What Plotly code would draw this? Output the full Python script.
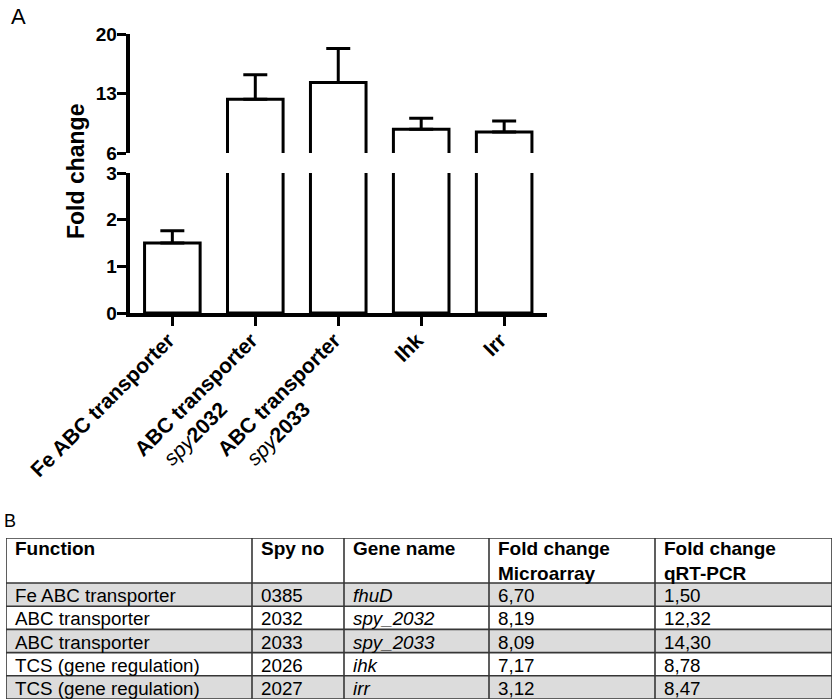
import plotly.graph_objects as go

# ---------------- data ----------------
categories = ["Fe ABC transporter", "ABC transporter spy2032", "ABC transporter spy2033", "Ihk", "Irr"]
PAD = "\u00a0" * 12
tick_labels = [
    "<b>Fe ABC transporter</b>",
    "<b>ABC transporter</b><br><i>spy</i><b>2032</b>" + PAD,
    "<b>ABC transporter</b><br><i>spy</i><b>2033</b>" + PAD,
    "<b>Ihk</b>",
    "<b>Irr</b>",
]
fold_change = [1.50, 12.32, 14.30, 8.78, 8.47]
fold_error = [0.26, 2.9, 4.0, 1.3, 1.3]
lower_ticks = [0, 1, 2, 3]
upper_ticks = [6, 13, 20]

table_header = ["<b>Function</b>", "<b>Spy no</b>", "<b>Gene name</b>",
                "<b>Fold change<br>Microarray</b>", "<b>Fold change<br>qRT-PCR</b>"]
functions = ["Fe ABC transporter", "ABC transporter", "ABC transporter",
             "TCS (gene regulation)", "TCS (gene regulation)"]
spy_no = ["0385", "2032", "2033", "2026", "2027"]
gene_name = ["<i>fhuD</i>", "<i>spy_2032</i>", "<i>spy_2033</i>", "<i>ihk</i>", "<i>irr</i>"]
fc_microarray = ["6,70", "8,19", "8,09", "7,17", "3,12"]
fc_qrtpcr = ["1,50", "12,32", "14,30", "8,78", "8,47"]
table_columns = [functions, spy_no, gene_name, fc_microarray, fc_qrtpcr]

# table geometry (layout, in table units = px)
col_widths = [246, 92, 145, 166, 177]
header_height = 45
row_height = 23.2
row_fill = ["#dcdcdc", "white", "#dcdcdc", "white", "#dcdcdc"]

# ---------------- figure ----------------
W, H = 836, 700
FONT = "Arial, Liberation Sans, Helvetica, sans-serif"


def px_x(p):
    return p / W


def px_y(p):
    return 1 - p / H


fig = go.Figure()

for xa, ya in [("x", "y"), ("x2", "y2")]:
    fig.add_trace(go.Bar(
        x=categories, y=fold_change, xaxis=xa, yaxis=ya,
        width=0.67,
        marker=dict(color="white", line=dict(color="black", width=3)),
        error_y=dict(type="data", array=fold_error, arrayminus=[0] * 5,
                     symmetric=False, color="black", thickness=3, width=12),
        showlegend=False, hoverinfo="skip",
    ))

# ---- table drawn on its own axes ----
col_edges = [0]
for w in col_widths:
    col_edges.append(col_edges[-1] + w)
row_edges = [0, header_height]
for _ in functions:
    row_edges.append(row_edges[-1] + row_height)
row_centers = [(row_edges[i + 1] + row_edges[i + 2]) / 2 for i in range(len(functions))]
table_w = col_edges[-1]
table_h = row_edges[-1]

# row backgrounds as horizontal bars
fig.add_trace(go.Bar(
    orientation="h", y=row_centers, x=[table_w] * len(row_centers), base=0,
    width=row_height, marker=dict(color=row_fill, line=dict(width=0)),
    xaxis="x3", yaxis="y3", showlegend=False, hoverinfo="skip",
))

# grid lines
gx, gy = [], []
for e in col_edges:
    gx += [e, e, None]
    gy += [0, table_h, None]
for e in row_edges:
    gx += [0, table_w, None]
    gy += [e, e, None]
fig.add_trace(go.Scatter(x=gx, y=gy, mode="lines", xaxis="x3", yaxis="y3",
                         line=dict(color="#363636", width=1.6),
                         showlegend=False, hoverinfo="skip"))

# header text
fig.add_trace(go.Scatter(
    x=[e + 9 for e in col_edges[:-1]], y=[3] * len(table_header),
    text=table_header, mode="text", textposition="bottom right",
    textfont=dict(size=19, family=FONT, color="black"), cliponaxis=False,
    xaxis="x3", yaxis="y3", showlegend=False, hoverinfo="skip"))

# body text
for ci, col in enumerate(table_columns):
    fig.add_trace(go.Scatter(
        x=[col_edges[ci] + 9] * len(col), y=[c + 3 for c in row_centers],
        text=col, mode="text", textposition="middle right",
        textfont=dict(size=18.8, family=FONT, color="black"), cliponaxis=False,
        xaxis="x3", yaxis="y3", showlegend=False, hoverinfo="skip"))

xdom = [px_x(129.5), px_x(547)]
axis_common = dict(showline=True, linecolor="black", linewidth=3.5,
                   showgrid=False, zeroline=False, ticks="outside",
                   tickcolor="black", tickwidth=3, ticklen=9, automargin=False)

fig.update_layout(
    width=W, height=H,
    margin=dict(l=0, r=0, t=0, b=0),
    paper_bgcolor="white", plot_bgcolor="white",
    font=dict(family=FONT, color="black"),
    xaxis=dict(domain=xdom, anchor="y", type="category",
               range=[-0.5165, 4.5165],
               tickvals=categories, ticktext=tick_labels, tickangle=-45,
               tickfont=dict(size=21, family=FONT, color="black"),
               ticklabelstandoff=-6, ticklabelshift=-4,
               **axis_common),
    xaxis2=dict(domain=xdom, anchor="y2", matches="x", visible=False, automargin=False),
    yaxis=dict(domain=[px_y(313), px_y(173)], anchor="x", range=[0, 3],
               tickvals=lower_ticks, ticklabelstandoff=-4,
               tickfont=dict(size=19, family=FONT, color="black", weight="bold"),
               **axis_common),
    yaxis2=dict(domain=[px_y(153), px_y(34)], anchor="x2", range=[6, 20],
                tickvals=upper_ticks, ticklabelstandoff=-4,
                tickfont=dict(size=19, family=FONT, color="black", weight="bold"),
                **axis_common),
    xaxis3=dict(domain=[px_x(6), px_x(832)], anchor="y3", range=[0, table_w],
                visible=False, automargin=False, fixedrange=True),
    yaxis3=dict(domain=[px_y(699), px_y(538)], anchor="x3", range=[table_h, 0],
                visible=False, automargin=False, fixedrange=True),
)

fig.add_annotation(text="<b>Fold change</b>", textangle=-90, showarrow=False,
                   xref="paper", yref="paper", x=px_x(76), y=px_y(172),
                   xanchor="center", yanchor="middle",
                   font=dict(size=23, family=FONT, color="black"))
fig.add_annotation(text="A", showarrow=False, xref="paper", yref="paper",
                   x=px_x(18), y=px_y(17), xanchor="center", yanchor="middle",
                   font=dict(size=22, family=FONT, color="black"))
fig.add_annotation(text="B", showarrow=False, xref="paper", yref="paper",
                   x=px_x(10), y=px_y(521), xanchor="center", yanchor="middle",
                   font=dict(size=18, family=FONT, color="black"))

fig.write_html("out.html", config={"displayModeBar": False},
               post_script="document.body.style.margin='0px';document.body.style.padding='0px';")
